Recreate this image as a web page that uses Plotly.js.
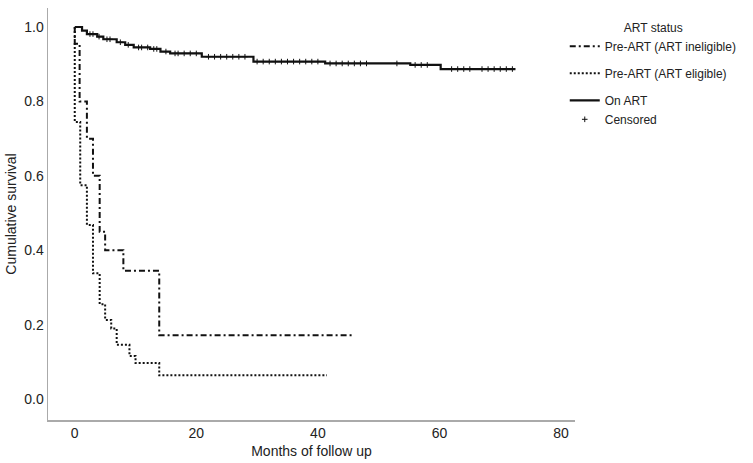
<!DOCTYPE html>
<html>
<head>
<meta charset="utf-8">
<script src="https://cdn.plot.ly/plotly-3.0.1.min.js"></script>
<style>
  html, body { margin: 0; padding: 0; background: #fff; }
  #chart { width: 753px; height: 463px; }
</style>
</head>
<body>
<div id="chart"></div>
<script>
(function() {
  // Kaplan-Meier steps: time of each drop (months) and survival after it
  var INELIG_T = [0, 0, 0.8, 2.0, 3.0, 4.1, 5.0, 8.0, 13.9, 45.6];
  var INELIG_S = [1.0, 0.955, 0.80, 0.70, 0.60, 0.45, 0.40, 0.345, 0.172, 0.172];

  var ELIG_T = [0, 0, 0.9, 2.0, 3.0, 4.1, 5.0, 6.0, 6.9, 9.0, 10.0, 13.9, 41.5];
  var ELIG_S = [1.0, 0.745, 0.575, 0.468, 0.338, 0.255, 0.213, 0.19, 0.146, 0.116, 0.097, 0.064, 0.064];

  var ONART_T = [0, 1.2, 2.0, 3.7, 4.7, 6.9, 8.3, 9.7, 12.4, 14.1, 15.7, 20.9, 29.4, 41.2, 55.2, 60.2, 72.5];
  var ONART_S = [1.0, 0.99, 0.981, 0.974, 0.967, 0.959, 0.952, 0.945, 0.941, 0.934, 0.929, 0.92, 0.907, 0.902, 0.898, 0.887, 0.887];

  // censoring times on the On ART curve
  var ONART_CENS = [2.5, 3, 4, 5.3, 5.8, 7.5, 8.8, 10.5, 11, 12, 13, 13.5, 15, 16.5, 17, 18, 19, 20, 22, 23,
                    24, 25, 26, 27, 28, 30, 31, 32, 33, 34, 35, 36, 37, 38, 39, 40, 42, 43, 44, 45,
                    46, 47, 48, 53, 56, 57, 58, 62, 63, 64, 65, 67, 68, 69, 70, 71, 72];

  var INK = '#111';
  var TEXT = '#222';
  var FAMILY = 'Liberation Sans, Arial, sans-serif';

  function survAt(ts, ss, t) {
    var v = ss[0];
    for (var i = 0; i < ts.length; i++) { if (ts[i] <= t) v = ss[i]; }
    return v;
  }

  var traces = [
    {
      x: INELIG_T, y: INELIG_S, type: 'scatter', mode: 'lines',
      name: 'Pre-ART (ART ineligible)', legendgroup: 'a',
      line: {shape: 'hv', color: INK, width: 2, dash: '6px,3px,2px,3px'}
    },
    {
      x: ELIG_T, y: ELIG_S, type: 'scatter', mode: 'lines',
      name: 'Pre-ART (ART eligible)', legendgroup: 'b',
      line: {shape: 'hv', color: INK, width: 2, dash: '2px,2px'}
    },
    {
      x: ONART_T, y: ONART_S, type: 'scatter', mode: 'lines',
      name: 'On ART', legendgroup: 'c',
      line: {shape: 'hv', color: INK, width: 2.2}
    },
    {
      x: ONART_CENS,
      y: ONART_CENS.map(function(t) { return survAt(ONART_T, ONART_S, t); }),
      type: 'scatter', mode: 'markers', name: 'Censored', legendgroup: 'c',
      marker: {symbol: 'cross-thin', size: 4, color: INK, line: {color: INK, width: 1}}
    }
  ];

  var axisFont = {family: FAMILY, size: 14, color: TEXT};

  var layout = {
    width: 753, height: 463,
    margin: {l: 48, r: 178, t: 8, b: 43, autoexpand: false},
    paper_bgcolor: '#fff', plot_bgcolor: '#fff',
    font: {family: FAMILY, color: TEXT},
    showlegend: true,
    xaxis: {
      range: [-4.4, 82.3], showgrid: false, zeroline: false,
      showline: true, linecolor: '#aaa', linewidth: 1.5,
      tickvals: [0, 20, 40, 60, 80], ticks: '',
      tickfont: axisFont,
      title: {text: 'Months of follow up', font: axisFont, standoff: 6}
    },
    yaxis: {
      range: [-0.056, 1.051], showgrid: false, zeroline: false,
      showline: true, linecolor: '#aaa', linewidth: 1.5,
      tickvals: [0, 0.2, 0.4, 0.6, 0.8, 1.0], tickformat: '.1f', ticks: '',
      tickfont: axisFont,
      title: {text: 'Cumulative survival', font: axisFont, standoff: 4}
    },
    legend: {
      xref: 'container', yref: 'container',
      x: 0.75, y: 0.965, xanchor: 'left', yanchor: 'top',
      bgcolor: 'rgba(0,0,0,0)', borderwidth: 0,
      font: {family: FAMILY, size: 12, color: TEXT},
      title: {text: 'ART status', side: 'top center',
              font: {family: FAMILY, size: 12, color: TEXT}},
      itemwidth: 30, tracegroupgap: 8
    }
  };

  Plotly.newPlot('chart', traces, layout, {displayModeBar: false, staticPlot: true});
})();
</script>
</body>
</html>
